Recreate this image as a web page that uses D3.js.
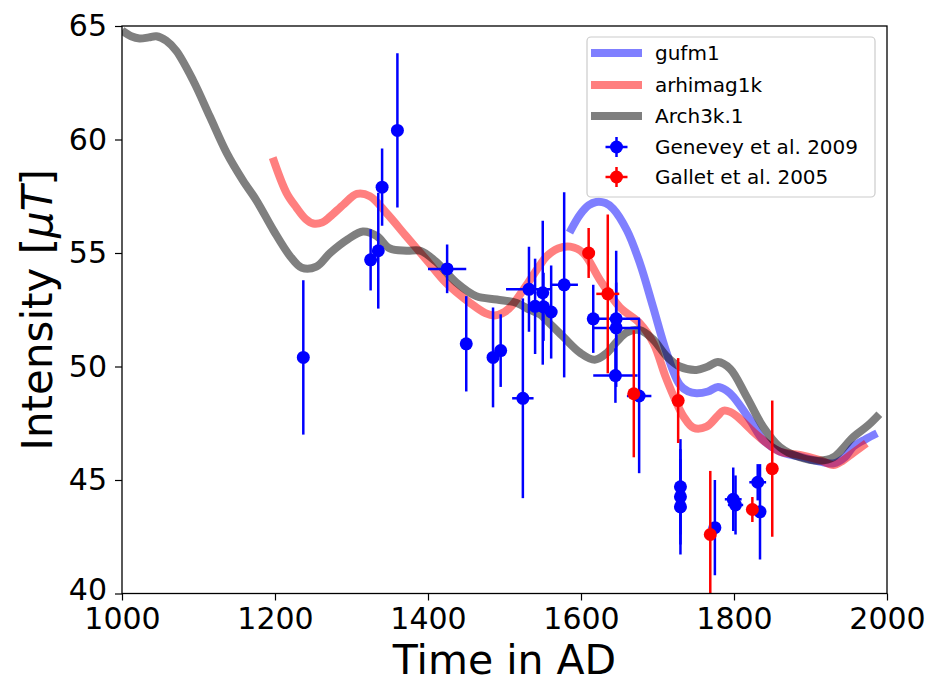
<!DOCTYPE html>
<html>
<head>
<meta charset="utf-8">
<script src="https://cdn.jsdelivr.net/npm/d3@7"></script>
<style>
  html, body { margin: 0; padding: 0; background: #fff; }
  svg { display: block; font-family: "DejaVu Sans", sans-serif; }
</style>
</head>
<body>
<svg id="chart" width="929" height="684"></svg>
<script>
// ---------- DATA ----------
const xTicks = [1000, 1200, 1400, 1600, 1800, 2000];
const yTicks = [40, 45, 50, 55, 60, 65];

// Arch3k.1 model curve
const archYears = [1000,1012,1023,1035,1045,1058,1071,1093,1115,1137,1158,1176,1198,1220,1235,1254,1272,1295,1315,1333,1350,1372,1390,1411,1437,1463,1490,1516,1533,1546,1562,1577,1599,1618,1634,1647,1660,1677,1694,1712,1729,1751,1766,1779,1795,1816,1838,1860,1886,1912,1930,1956,1975,1990];
const archVals  = [64.8,64.55,64.45,64.5,64.55,64.35,63.9,62.6,61.0,59.4,58.2,57.3,56.0,54.85,54.35,54.4,55.0,55.6,55.95,55.75,55.2,55.1,55.1,54.6,53.7,53.1,52.95,52.8,52.5,52.3,51.8,51.3,50.6,50.3,50.6,51.1,51.5,51.6,51.2,50.45,50.0,49.85,50.0,50.2,49.9,48.7,47.35,46.45,46.0,45.85,46.0,46.9,47.4,47.9];

// arhimag1k model curve
const arhiYears = [1197,1215,1228,1240,1250,1262,1272,1290,1307,1324,1346,1372,1398,1424,1455,1475,1487,1500,1510,1529,1545,1555,1570,1586,1603,1625,1651,1677,1695,1710,1721,1734,1747,1764,1778,1786,1795,1804,1825,1843,1860,1886,1912,1930,1942,1956,1973];
const arhiVals  = [59.2,57.65,57.0,56.5,56.3,56.35,56.6,57.15,57.6,57.5,56.75,55.72,54.7,53.67,52.8,52.35,52.25,52.4,52.7,53.6,54.4,54.85,55.2,55.28,55.0,53.8,52.6,51.9,51.0,49.6,48.7,47.8,47.3,47.35,47.8,48.05,48.0,47.8,47.13,46.62,46.25,46.1,45.88,45.66,45.85,46.2,46.62];

// gufm1 model curve
const gufmYears = [1585,1599,1610,1620,1632,1642,1660,1677,1694,1712,1729,1740,1751,1766,1779,1790,1799,1821,1838,1860,1886,1912,1930,1945,1956,1972,1987];
const gufmVals  = [55.9,56.7,57.1,57.25,57.2,56.95,56.0,54.55,52.65,50.6,49.2,48.9,48.82,48.9,49.1,48.95,48.67,47.64,46.76,46.25,46.03,45.81,45.73,46.0,46.47,46.8,47.06];

// Genevey et al. 2009 data
const genYear    = [1237,1325,1335,1340,1360,1425,1450,1485,1495,1524,1532,1540,1550,1551,1561,1578,1616,1646,1646,1645,1676,1730,1730,1730,1775,1799,1802,1831,1834];
const genInt     = [50.4,54.7,55.1,57.9,60.4,54.3,51.0,50.4,50.7,48.6,53.4,52.65,53.25,52.63,52.4,53.6,52.1,52.1,51.7,49.6,48.7,44.7,44.26,43.82,42.9,44.15,43.9,44.9,43.6];
const genIntErr  = [3.4,1.35,2.55,1.7,3.4,1.07,2.1,2.2,1.6,4.4,1.87,2.1,3.17,1.5,2.05,4.08,1.5,3.0,2.0,1.2,3.4,2.1,2.1,2.1,2.1,1.4,1.3,0.8,2.1];
const genYearErr = [0,0,0,0,0,25,0,0,0,14,30,0,0,0,0,18,0,31,30,29,16,0,0,0,0,11,10,11,6];

// Gallet et al. 2005 data
const galYear    = [1610,1635,1669,1727,1769,1824,1850];
const galInt     = [55.0,53.2,48.8,48.5,42.6,43.7,45.5];
const galIntErr  = [1.1,3.5,2.8,1.87,2.8,0.55,3.0];
const galYearErr = [0,15,0,0,0,0,0];

const legendLabels = ["gufm1","arhimag1k","Arch3k.1","Genevey et al. 2009","Gallet et al. 2005"];

// ---------- CHART ----------
const svg = d3.select("#chart");
const L = 122, R = 887, T = 26, B = 593.5;
const x = d3.scaleLinear().domain([1000, 2000]).range([L, R]);
const y = d3.scaleLinear().domain([40, 65]).range([B, T]);

svg.append("defs").append("clipPath").attr("id", "plotclip")
  .append("rect").attr("x", L).attr("y", T).attr("width", R - L).attr("height", B - T);

const plot = svg.append("g").attr("clip-path", "url(#plotclip)");

const line = d3.line().x(d => x(d[0])).y(d => y(d[1])).curve(d3.curveCatmullRom.alpha(0.5));
const zip = (a, b) => a.map((v, i) => [v, b[i]]);

const curves = [
  {years: gufmYears, vals: gufmVals, color: "#0000ff"},
  {years: arhiYears, vals: arhiVals, color: "#ff0000"},
  {years: archYears, vals: archVals, color: "#000000"}
];
curves.forEach(c => {
  plot.append("path")
    .attr("d", line(zip(c.years, c.vals)))
    .attr("fill", "none")
    .attr("stroke", c.color)
    .attr("stroke-opacity", 0.5)
    .attr("stroke-width", 8)
    .attr("stroke-linecap", "butt")
    .attr("stroke-linejoin", "round");
});

function drawSeries(years, ints, iErr, yErr, color) {
  const g = plot.append("g");
  years.forEach((yr, i) => {
    g.append("line")
      .attr("x1", x(yr)).attr("x2", x(yr))
      .attr("y1", y(ints[i] - iErr[i])).attr("y2", y(ints[i] + iErr[i]))
      .attr("stroke", color).attr("stroke-width", 2.5);
    if (yErr[i] > 0) {
      g.append("line")
        .attr("x1", x(yr - yErr[i])).attr("x2", x(yr + yErr[i]))
        .attr("y1", y(ints[i])).attr("y2", y(ints[i]))
        .attr("stroke", color).attr("stroke-width", 2.5);
    }
  });
  g.selectAll("circle").data(years).enter().append("circle")
    .attr("cx", d => x(d)).attr("cy", (d, i) => y(ints[i]))
    .attr("r", 6.5).attr("fill", color);
}
drawSeries(genYear, genInt, genIntErr, genYearErr, "#0000ff");
drawSeries(galYear, galInt, galIntErr, galYearErr, "#ff0000");

// Axes
const xAxis = svg.append("g").attr("transform", `translate(0,${B})`)
  .call(d3.axisBottom(x).tickValues(xTicks).tickFormat(d3.format("d")).tickSize(7).tickPadding(7));
const yAxis = svg.append("g").attr("transform", `translate(${L},0)`)
  .call(d3.axisLeft(y).tickValues(yTicks).tickFormat(d3.format("d")).tickSize(7).tickPadding(8));
[xAxis, yAxis].forEach(a => {
  a.select(".domain").remove();
  a.selectAll(".tick line").attr("stroke", "#000").attr("stroke-width", 1.2);
  a.selectAll(".tick text").attr("fill", "#000")
    .style("font-family", "DejaVu Sans").style("font-size", "30px");
});
// lift the lowest y label slightly as in the reference
yAxis.selectAll(".tick text").filter(d => d === 40).attr("dy", "0.2em");

// Frame
svg.append("rect").attr("x", L).attr("y", T).attr("width", R - L).attr("height", B - T)
  .attr("fill", "none").attr("stroke", "#000").attr("stroke-width", 1.3);

// Axis labels
svg.append("text").attr("x", (L + R) / 2).attr("y", 674)
  .attr("text-anchor", "middle").style("font-size", "41px").text("Time in AD");
const yl = svg.append("text")
  .attr("transform", `translate(52,${(T + B) / 2}) rotate(-90)`)
  .attr("text-anchor", "middle").style("font-size", "42px");
yl.append("tspan").text("Intensity [");
yl.append("tspan").style("font-style", "italic").text("μT");
yl.append("tspan").text("]");

// Legend
const lg = svg.append("g");
lg.append("rect").attr("x", 587).attr("y", 37).attr("width", 288).attr("height", 160)
  .attr("rx", 4).attr("fill", "#fff").attr("fill-opacity", 0.8)
  .attr("stroke", "#cccccc").attr("stroke-width", 1.2);
const rowY = [53, 85, 116, 147, 177];
curves.forEach((c, i) => {
  lg.append("line").attr("x1", 591).attr("x2", 642).attr("y1", rowY[i]).attr("y2", rowY[i])
    .attr("stroke", c.color).attr("stroke-opacity", 0.5).attr("stroke-width", 8);
});
["#0000ff", "#ff0000"].forEach((col, j) => {
  const yy = rowY[3 + j], xx = 616.5;
  lg.append("line").attr("x1", xx - 11).attr("x2", xx + 11).attr("y1", yy).attr("y2", yy)
    .attr("stroke", col).attr("stroke-width", 2.5);
  lg.append("line").attr("x1", xx).attr("x2", xx).attr("y1", yy - 10).attr("y2", yy + 10)
    .attr("stroke", col).attr("stroke-width", 2.5);
  lg.append("circle").attr("cx", xx).attr("cy", yy).attr("r", 6.5).attr("fill", col);
});
legendLabels.forEach((t, i) => {
  lg.append("text").attr("x", 655).attr("y", rowY[i]).attr("dy", "0.35em")
    .style("font-size", "20px").attr("fill", "#000").text(t);
});
</script>
</body>
</html>
